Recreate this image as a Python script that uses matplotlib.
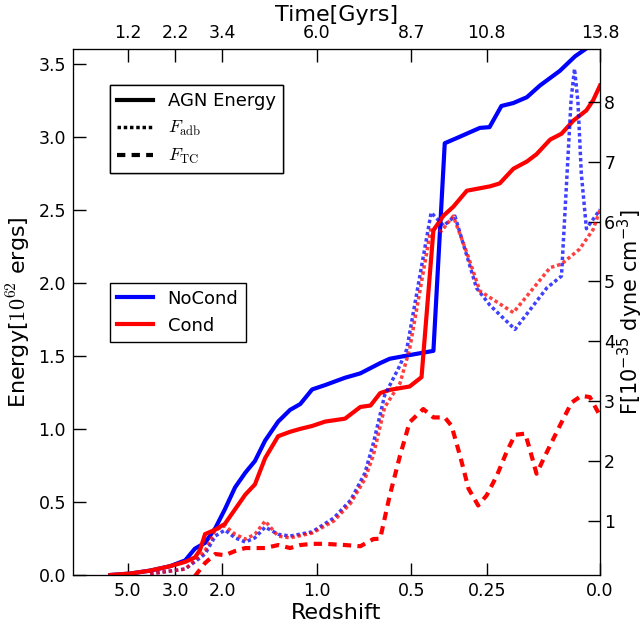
import matplotlib

matplotlib.use("Agg")
import matplotlib.pyplot as plt
from matplotlib.lines import Line2D

plt.rcParams["mathtext.fontset"] = "cm"
plt.rcParams["font.family"] = "DejaVu Sans"

# x values are scale factors a = 1/(1+z)
z_ticks = [5.0, 3.0, 2.0, 1.0, 0.5, 0.25, 0.0]
z_labels = ["5.0", "3.0", "2.0", "1.0", "0.5", "0.25", "0.0"]
t_labels = ["1.2", "2.2", "3.4", "6.0", "8.7", "10.8", "13.8"]

# AGN energy [1e62 erg]
a_e_nocond = [0.136, 0.171, 0.206, 0.241, 0.268, 0.285, 0.303, 0.321, 0.338,
              0.356, 0.374, 0.391, 0.409, 0.432, 0.453, 0.471, 0.492, 0.515,
              0.550, 0.577, 0.612, 0.629, 0.671, 0.706, 0.726, 0.747, 0.788,
              0.805, 0.826, 0.847, 0.871, 0.894, 0.929, 0.956, 0.982]
e_nocond = [0.0, 0.01, 0.03, 0.06, 0.10, 0.18, 0.22, 0.32, 0.45,
            0.60, 0.70, 0.78, 0.92, 1.05, 1.13, 1.17, 1.27, 1.30,
            1.35, 1.38, 1.45, 1.48, 1.51, 1.534, 2.955, 2.99, 3.06,
            3.065, 3.21, 3.23, 3.27, 3.35, 3.45, 3.55, 3.62]

a_e_cond = [0.136, 0.171, 0.206, 0.241, 0.268, 0.285, 0.294, 0.303, 0.321,
            0.338, 0.356, 0.374, 0.391, 0.409, 0.432, 0.453, 0.471, 0.492,
            0.515, 0.550, 0.577, 0.595, 0.612, 0.629, 0.664, 0.685, 0.706,
            0.724, 0.741, 0.765, 0.806, 0.823, 0.847, 0.871, 0.888, 0.912,
            0.932, 0.953, 0.976, 0.988, 1.0]
e_cond = [0.0, 0.01, 0.03, 0.06, 0.09, 0.12, 0.17, 0.28, 0.31,
          0.35, 0.45, 0.55, 0.62, 0.80, 0.95, 0.98, 1.0, 1.02,
          1.05, 1.07, 1.15, 1.16, 1.245, 1.267, 1.29, 1.354, 2.36,
          2.46, 2.52, 2.63, 2.66, 2.68, 2.78, 2.83, 2.88, 2.98,
          3.02, 3.11, 3.18, 3.25, 3.35]

# adiabatic flux [1e-35 dyne cm^-3]
a_adb_nocond = [0.206, 0.268, 0.303, 0.321, 0.338, 0.356, 0.374, 0.391, 0.409,
                0.432, 0.453, 0.492, 0.530, 0.560, 0.585, 0.600, 0.620, 0.647,
                0.659, 0.702, 0.724, 0.744, 0.782, 0.806, 0.850, 0.906, 0.932,
                0.949, 0.955, 0.961, 0.967, 0.976, 1.0]
f_adb_nocond = [0.12, 0.2, 0.45, 0.75, 0.85, 0.72, 0.65, 0.72, 0.9,
                0.78, 0.75, 0.82, 1.05, 1.35, 1.8, 2.3, 3.1, 3.6,
                3.87, 6.15, 5.93, 6.09, 4.89, 4.6, 4.2, 4.89, 5.09,
                8.04, 8.55, 8.0, 6.8, 5.88, 6.2]

a_adb_cond = [0.206, 0.268, 0.303, 0.321, 0.338, 0.356, 0.374, 0.391, 0.409,
              0.432, 0.453, 0.492, 0.530, 0.560, 0.585, 0.600, 0.620, 0.647,
              0.664, 0.702, 0.720, 0.741, 0.765, 0.788, 0.847, 0.912, 0.932,
              0.964, 0.988, 1.0]
f_adb_cond = [0.12, 0.2, 0.5, 0.85, 0.92, 0.78, 0.7, 0.78, 1.0,
              0.75, 0.72, 0.8, 1.0, 1.3, 1.7, 2.1, 2.9, 3.3,
              3.87, 5.90, 5.84, 6.09, 5.48, 4.84, 4.48, 5.23, 5.29,
              5.54, 5.87, 6.2]

# thermal conduction flux, Cond run only
a_tc_cond = [0.285, 0.303, 0.321, 0.338, 0.356, 0.374, 0.409, 0.432, 0.453,
             0.471, 0.492, 0.515, 0.550, 0.577, 0.600, 0.612, 0.629, 0.647,
             0.664, 0.688, 0.706, 0.726, 0.738, 0.753, 0.768, 0.785, 0.800,
             0.818, 0.835, 0.850, 0.868, 0.876, 0.888, 0.903, 0.929, 0.950,
             0.967, 0.982, 1.0]
f_tc_cond = [0.08, 0.3, 0.45, 0.43, 0.5, 0.55, 0.55, 0.6, 0.55,
             0.6, 0.62, 0.62, 0.6, 0.58, 0.7, 0.705, 1.43, 2.09,
             2.65, 2.87, 2.73, 2.73, 2.59, 2.09, 1.54, 1.26, 1.43,
             1.76, 2.15, 2.44, 2.46, 2.2, 1.79, 2.09, 2.59, 2.98,
             3.09, 3.07, 2.76]

BLUE = "#0000ff"
RED = "#ff0000"
DOT = (0, (1.0, 0.8))
DASH = (0, (2.0, 1.5))

fig = plt.figure(figsize=(6.44, 6.28), dpi=100)
ax = fig.add_axes([0.1134, 0.0844, 0.8183, 0.8376])
axr = ax.twinx()
axt = ax.twiny()

ax.plot(a_e_nocond, e_nocond, color=BLUE, lw=3)
ax.plot(a_e_cond, e_cond, color=RED, lw=3)
axr.plot(a_adb_nocond, f_adb_nocond, color=BLUE, lw=2.5, ls=DOT, alpha=0.75,
         dash_capstyle="butt")
axr.plot(a_adb_cond, f_adb_cond, color=RED, lw=2.5, ls=DOT, alpha=0.75,
         dash_capstyle="butt")
axr.plot(a_tc_cond, f_tc_cond, color=RED, lw=3, ls=DASH, dash_capstyle="butt")

a_ticks = [1.0 / (1.0 + z) for z in z_ticks]
for a_ in (ax, axt):
    a_.set_xlim(0.07, 1.0)
ax.set_ylim(0, 3.6)
axr.set_ylim(0.1, 8.88)

ax.set_xticks(a_ticks)
ax.set_xticklabels(z_labels)
axt.set_xticks(a_ticks)
axt.set_xticklabels(t_labels)
ax.set_yticks([0, 0.5, 1.0, 1.5, 2.0, 2.5, 3.0, 3.5])
axr.set_yticks([1, 2, 3, 4, 5, 6, 7, 8])

for a_ in (ax, axr, axt):
    a_.tick_params(direction="in", length=9, width=1, labelsize=12.5, pad=5)
axr.tick_params(pad=3)

ax.set_xlabel("Redshift", fontsize=16, labelpad=2)
axt.set_xlabel("Time[Gyrs]", fontsize=16, labelpad=2)
ax.set_ylabel(r"Energy[$10^{62}$ ergs]", fontsize=16, labelpad=4)
axr.set_ylabel(r"F[$10^{-35}$ dyne cm$^{-3}$]", fontsize=15, labelpad=0,
               math_fontfamily="dejavusans")

kw = dict(fontsize=13, fancybox=False, framealpha=1, edgecolor="black",
          borderaxespad=0, loc="upper left")
h1 = [Line2D([], [], color="black", lw=3),
      Line2D([], [], color="black", lw=2.5, ls=DOT, dash_capstyle="butt"),
      Line2D([], [], color="black", lw=3, ls=DASH, dash_capstyle="butt")]
leg1 = ax.legend(h1, ["AGN Energy", r"$F_{\rm adb}$", r"$F_{\rm TC}$"],
                 bbox_to_anchor=(0.070, 0.932), **kw)
leg1.get_frame().set_linewidth(1)
ax.add_artist(leg1)
h2 = [Line2D([], [], color=BLUE, lw=3), Line2D([], [], color=RED, lw=3)]
leg2 = axr.legend(h2, ["NoCond", "Cond"], bbox_to_anchor=(0.070, 0.556), **kw)
leg2.get_frame().set_linewidth(1)

fig.savefig("out.png", dpi=100)
